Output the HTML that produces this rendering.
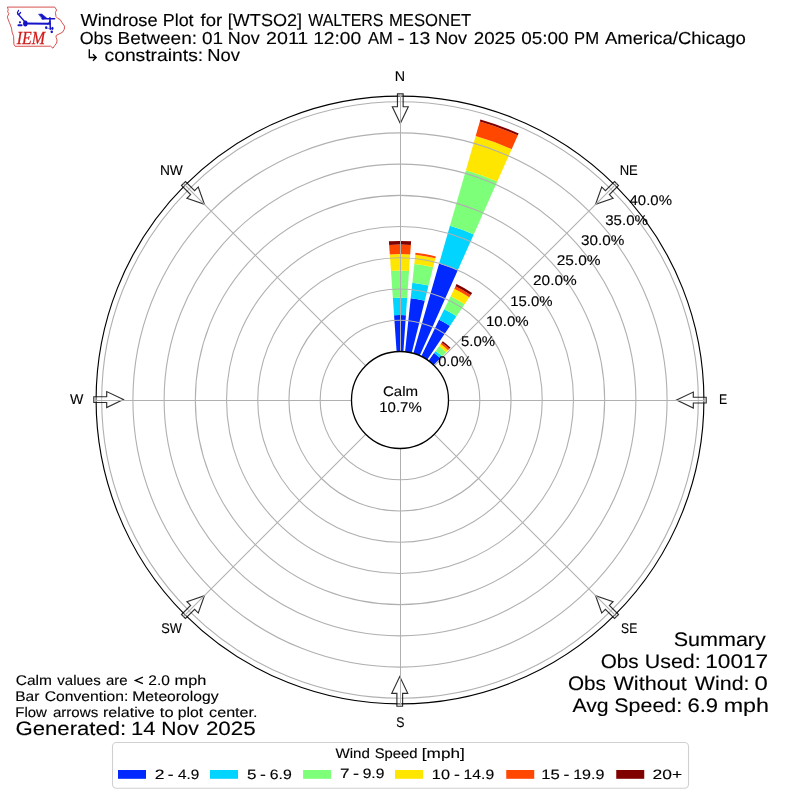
<!DOCTYPE html><html><head><meta charset="utf-8"><style>html,body{margin:0;padding:0;background:#fff;}svg{display:block;will-change:transform;text-rendering:geometricPrecision;font-family:"Liberation Sans",sans-serif;}</style></head><body>
<svg width="800" height="800" viewBox="0 0 800 800">
<rect width="800" height="800" fill="#fff"/>
<path d="M396.61,351.52 L394.07,315.21 A84.99,84.99 0 0 1 405.93,315.21 L403.39,351.52 A48.60,48.60 0 0 0 396.61,351.52 Z" fill="#0028ff"/>
<path d="M394.07,315.21 L392.86,297.96 A102.29,102.29 0 0 1 407.14,297.96 L405.93,315.21 A84.99,84.99 0 0 0 394.07,315.21 Z" fill="#00d4ff"/>
<path d="M392.86,297.96 L390.98,270.94 A129.38,129.38 0 0 1 409.02,270.94 L407.14,297.96 A102.29,102.29 0 0 0 392.86,297.96 Z" fill="#7dff7a"/>
<path d="M390.98,270.94 L389.82,254.43 A145.92,145.92 0 0 1 410.18,254.43 L409.02,270.94 A129.38,129.38 0 0 0 390.98,270.94 Z" fill="#ffe600"/>
<path d="M389.82,254.43 L389.15,244.91 A155.47,155.47 0 0 1 410.85,244.91 L410.18,254.43 A145.92,145.92 0 0 0 389.82,254.43 Z" fill="#ff4700"/>
<path d="M389.15,244.91 L388.91,241.36 A159.03,159.03 0 0 1 411.09,241.36 L410.85,244.91 A155.47,155.47 0 0 0 389.15,244.91 Z" fill="#800000"/>
<path d="M405.08,351.67 L410.69,298.27 A102.29,102.29 0 0 1 424.75,300.75 L411.76,352.84 A48.60,48.60 0 0 0 405.08,351.67 Z" fill="#0028ff"/>
<path d="M410.69,298.27 L412.34,282.63 A118.02,118.02 0 0 1 428.55,285.49 L424.75,300.75 A102.29,102.29 0 0 0 410.69,298.27 Z" fill="#00d4ff"/>
<path d="M412.34,282.63 L414.31,263.88 A136.87,136.87 0 0 1 433.11,267.20 L428.55,285.49 A118.02,118.02 0 0 0 412.34,282.63 Z" fill="#7dff7a"/>
<path d="M414.31,263.88 L415.27,254.69 A146.11,146.11 0 0 1 435.35,258.23 L433.11,267.20 A136.87,136.87 0 0 0 414.31,263.88 Z" fill="#ffe600"/>
<path d="M415.27,254.69 L415.47,252.83 A147.98,147.98 0 0 1 435.80,256.42 L435.35,258.23 A146.11,146.11 0 0 0 415.27,254.69 Z" fill="#ff4700"/>
<path d="M413.40,353.28 L439.14,263.51 A141.99,141.99 0 0 1 457.75,270.29 L419.77,355.60 A48.60,48.60 0 0 0 413.40,353.28 Z" fill="#0028ff"/>
<path d="M439.14,263.51 L449.94,225.83 A181.19,181.19 0 0 1 473.70,234.47 L457.75,270.29 A141.99,141.99 0 0 0 439.14,263.51 Z" fill="#00d4ff"/>
<path d="M449.94,225.83 L465.91,170.14 A239.12,239.12 0 0 1 497.26,181.55 L473.70,234.47 A181.19,181.19 0 0 0 449.94,225.83 Z" fill="#7dff7a"/>
<path d="M465.91,170.14 L475.67,136.12 A274.52,274.52 0 0 1 511.66,149.22 L497.26,181.55 A239.12,239.12 0 0 0 465.91,170.14 Z" fill="#ffe600"/>
<path d="M475.67,136.12 L479.85,121.54 A289.69,289.69 0 0 1 517.83,135.36 L511.66,149.22 A274.52,274.52 0 0 0 475.67,136.12 Z" fill="#ff4700"/>
<path d="M479.85,121.54 L480.40,119.62 A291.68,291.68 0 0 1 518.64,133.53 L517.83,135.36 A289.69,289.69 0 0 0 479.85,121.54 Z" fill="#800000"/>
<path d="M421.30,356.32 L439.12,319.79 A89.24,89.24 0 0 1 449.90,326.02 L427.18,359.71 A48.60,48.60 0 0 0 421.30,356.32 Z" fill="#0028ff"/>
<path d="M439.12,319.79 L444.24,309.30 A100.91,100.91 0 0 1 456.43,316.34 L449.90,326.02 A89.24,89.24 0 0 0 439.12,319.79 Z" fill="#00d4ff"/>
<path d="M444.24,309.30 L450.64,296.17 A115.52,115.52 0 0 1 464.60,304.23 L456.43,316.34 A100.91,100.91 0 0 0 444.24,309.30 Z" fill="#7dff7a"/>
<path d="M450.64,296.17 L454.31,288.65 A123.88,123.88 0 0 1 469.28,297.30 L464.60,304.23 A115.52,115.52 0 0 0 450.64,296.17 Z" fill="#ffe600"/>
<path d="M454.31,288.65 L455.51,286.18 A126.63,126.63 0 0 1 470.81,295.02 L469.28,297.30 A123.88,123.88 0 0 0 454.31,288.65 Z" fill="#ff4700"/>
<path d="M455.51,286.18 L456.55,284.05 A129.00,129.00 0 0 1 472.14,293.05 L470.81,295.02 A126.63,126.63 0 0 0 455.51,286.18 Z" fill="#800000"/>
<path d="M428.57,360.68 L434.07,353.11 A57.96,57.96 0 0 1 440.27,358.30 L433.76,365.04 A48.60,48.60 0 0 0 428.57,360.68 Z" fill="#0028ff"/>
<path d="M434.07,353.11 L435.65,350.93 A60.65,60.65 0 0 1 442.13,356.37 L440.27,358.30 A57.96,57.96 0 0 0 434.07,353.11 Z" fill="#00d4ff"/>
<path d="M435.65,350.93 L439.10,346.19 A66.52,66.52 0 0 1 446.21,352.15 L442.13,356.37 A60.65,60.65 0 0 0 435.65,350.93 Z" fill="#7dff7a"/>
<path d="M439.10,346.19 L440.67,344.02 A69.20,69.20 0 0 1 448.07,350.22 L446.21,352.15 A66.52,66.52 0 0 0 439.10,346.19 Z" fill="#ffe600"/>
<path d="M440.67,344.02 L441.78,342.50 A71.07,71.07 0 0 1 449.37,348.87 L448.07,350.22 A69.20,69.20 0 0 0 440.67,344.02 Z" fill="#ff4700"/>
<path d="M441.78,342.50 L442.77,341.14 A72.76,72.76 0 0 1 450.54,347.66 L449.37,348.87 A71.07,71.07 0 0 0 441.78,342.50 Z" fill="#800000"/>
<circle cx="400.0" cy="400.0" r="79.81" fill="none" stroke="#b0b0b0" stroke-width="1.1"/>
<circle cx="400.0" cy="400.0" r="111.03" fill="none" stroke="#b0b0b0" stroke-width="1.1"/>
<circle cx="400.0" cy="400.0" r="142.24" fill="none" stroke="#b0b0b0" stroke-width="1.1"/>
<circle cx="400.0" cy="400.0" r="173.45" fill="none" stroke="#b0b0b0" stroke-width="1.1"/>
<circle cx="400.0" cy="400.0" r="204.66" fill="none" stroke="#b0b0b0" stroke-width="1.1"/>
<circle cx="400.0" cy="400.0" r="235.87" fill="none" stroke="#b0b0b0" stroke-width="1.1"/>
<circle cx="400.0" cy="400.0" r="267.09" fill="none" stroke="#b0b0b0" stroke-width="1.1"/>
<circle cx="400.0" cy="400.0" r="298.30" fill="none" stroke="#b0b0b0" stroke-width="1.1"/>
<circle cx="400.0" cy="400.0" r="303.9" fill="none" stroke="#000" stroke-width="1.15"/>
<polygon points="397.45,93.80 403.15,93.80 403.15,106.70 408.30,106.70 400.30,123.40 392.30,106.70 397.45,106.70" fill="#fff" fill-opacity="0.3" stroke="#000" stroke-opacity="0.82" stroke-width="1.15" stroke-linejoin="miter"/>
<polygon points="614.50,181.47 618.53,185.50 609.41,194.62 613.05,198.26 595.59,204.41 601.74,186.95 605.38,190.59" fill="#fff" fill-opacity="0.3" stroke="#000" stroke-opacity="0.82" stroke-width="1.15" stroke-linejoin="miter"/>
<polygon points="706.20,397.25 706.20,402.95 693.30,402.95 693.30,408.10 676.60,400.10 693.30,392.10 693.30,397.25" fill="#fff" fill-opacity="0.3" stroke="#000" stroke-opacity="0.82" stroke-width="1.15" stroke-linejoin="miter"/>
<polygon points="618.53,614.50 614.50,618.53 605.38,609.41 601.74,613.05 595.59,595.59 613.05,601.74 609.41,605.38" fill="#fff" fill-opacity="0.3" stroke="#000" stroke-opacity="0.82" stroke-width="1.15" stroke-linejoin="miter"/>
<polygon points="402.60,706.20 396.90,706.20 396.90,693.30 391.75,693.30 399.75,676.60 407.75,693.30 402.60,693.30" fill="#fff" fill-opacity="0.3" stroke="#000" stroke-opacity="0.82" stroke-width="1.15" stroke-linejoin="miter"/>
<polygon points="185.50,618.53 181.47,614.50 190.59,605.38 186.95,601.74 204.41,595.59 198.26,613.05 194.62,609.41" fill="#fff" fill-opacity="0.3" stroke="#000" stroke-opacity="0.82" stroke-width="1.15" stroke-linejoin="miter"/>
<polygon points="93.80,402.45 93.80,396.75 106.70,396.75 106.70,391.60 123.40,399.60 106.70,407.60 106.70,402.45" fill="#fff" fill-opacity="0.3" stroke="#000" stroke-opacity="0.82" stroke-width="1.15" stroke-linejoin="miter"/>
<polygon points="181.47,185.50 185.50,181.47 194.62,190.59 198.26,186.95 204.41,204.41 186.95,198.26 190.59,194.62" fill="#fff" fill-opacity="0.3" stroke="#000" stroke-opacity="0.82" stroke-width="1.15" stroke-linejoin="miter"/>
<line x1="400.5" y1="351.40" x2="400.5" y2="94.00" stroke="#b0b0b0" stroke-width="1"/>
<line x1="434.37" y1="365.63" x2="616.37" y2="183.63" stroke="#b0b0b0" stroke-width="1.1"/>
<line x1="448.60" y1="400.5" x2="706.00" y2="400.5" stroke="#b0b0b0" stroke-width="1"/>
<line x1="434.37" y1="434.37" x2="616.37" y2="616.37" stroke="#b0b0b0" stroke-width="1.1"/>
<line x1="400.5" y1="448.60" x2="400.5" y2="706.00" stroke="#b0b0b0" stroke-width="1"/>
<line x1="365.63" y1="434.37" x2="183.63" y2="616.37" stroke="#b0b0b0" stroke-width="1.1"/>
<line x1="351.40" y1="400.5" x2="94.00" y2="400.5" stroke="#b0b0b0" stroke-width="1"/>
<line x1="365.63" y1="365.63" x2="183.63" y2="183.63" stroke="#b0b0b0" stroke-width="1.1"/>
<circle cx="400.0" cy="400.0" r="48.5" fill="#fff" stroke="#000" stroke-width="1.3"/>
<text x="382.95" y="395.54" font-size="13.86" textLength="35.16" lengthAdjust="spacingAndGlyphs" fill="#000" stroke="#000" stroke-width="0.12">Calm</text>
<text x="379.30" y="411.74" font-size="14.08" textLength="42.44" lengthAdjust="spacingAndGlyphs" fill="#000" stroke="#000" stroke-width="0.12">10.7%</text>
<text x="438.20" y="365.54" font-size="14.08" textLength="33.54" lengthAdjust="spacingAndGlyphs" fill="#000" stroke="#000" stroke-width="0.12">0.0%</text>
<text x="461.00" y="345.74" font-size="14.08" textLength="34.07" lengthAdjust="spacingAndGlyphs" fill="#000" stroke="#000" stroke-width="0.12">5.0%</text>
<text x="486.00" y="325.84" font-size="14.08" textLength="42.65" lengthAdjust="spacingAndGlyphs" fill="#000" stroke="#000" stroke-width="0.12">10.0%</text>
<text x="510.20" y="305.74" font-size="14.08" textLength="42.34" lengthAdjust="spacingAndGlyphs" fill="#000" stroke="#000" stroke-width="0.12">15.0%</text>
<text x="533.05" y="284.94" font-size="14.08" textLength="43.72" lengthAdjust="spacingAndGlyphs" fill="#000" stroke="#000" stroke-width="0.12">20.0%</text>
<text x="556.65" y="264.84" font-size="14.08" textLength="43.93" lengthAdjust="spacingAndGlyphs" fill="#000" stroke="#000" stroke-width="0.12">25.0%</text>
<text x="581.00" y="244.94" font-size="14.08" textLength="43.35" lengthAdjust="spacingAndGlyphs" fill="#000" stroke="#000" stroke-width="0.12">30.0%</text>
<text x="605.25" y="225.14" font-size="14.08" textLength="42.68" lengthAdjust="spacingAndGlyphs" fill="#000" stroke="#000" stroke-width="0.12">35.0%</text>
<text x="629.55" y="205.14" font-size="14.08" textLength="42.37" lengthAdjust="spacingAndGlyphs" fill="#000" stroke="#000" stroke-width="0.12">40.0%</text>
<text x="394.82" y="80.94" font-size="14.08" textLength="10.32" lengthAdjust="spacingAndGlyphs" fill="#000" stroke="#000" stroke-width="0.12">N</text>
<text x="619.69" y="174.84" font-size="14.08" textLength="18.11" lengthAdjust="spacingAndGlyphs" fill="#000" stroke="#000" stroke-width="0.12">NE</text>
<text x="718.99" y="403.74" font-size="14.08" textLength="8.16" lengthAdjust="spacingAndGlyphs" fill="#000" stroke="#000" stroke-width="0.12">E</text>
<text x="621.11" y="632.74" font-size="14.08" textLength="16.15" lengthAdjust="spacingAndGlyphs" fill="#000" stroke="#000" stroke-width="0.12">SE</text>
<text x="396.30" y="726.54" font-size="14.08" textLength="8.22" lengthAdjust="spacingAndGlyphs" fill="#000" stroke="#000" stroke-width="0.12">S</text>
<text x="161.25" y="632.74" font-size="14.08" textLength="20.69" lengthAdjust="spacingAndGlyphs" fill="#000" stroke="#000" stroke-width="0.12">SW</text>
<text x="70.00" y="403.84" font-size="14.08" textLength="13.36" lengthAdjust="spacingAndGlyphs" fill="#000" stroke="#000" stroke-width="0.12">W</text>
<text x="159.89" y="174.94" font-size="14.08" textLength="22.95" lengthAdjust="spacingAndGlyphs" fill="#000" stroke="#000" stroke-width="0.12">NW</text>
<text x="80.50" y="25.84" font-size="17.35" textLength="77.18" lengthAdjust="spacingAndGlyphs" fill="#000" stroke="#000" stroke-width="0.12">Windrose</text>
<text x="162.71" y="25.84" font-size="17.35" textLength="30.90" lengthAdjust="spacingAndGlyphs" fill="#000" stroke="#000" stroke-width="0.12">Plot</text>
<text x="200.54" y="25.84" font-size="17.35" textLength="21.62" lengthAdjust="spacingAndGlyphs" fill="#000" stroke="#000" stroke-width="0.12">for</text>
<text x="227.81" y="25.84" font-size="17.35" textLength="74.26" lengthAdjust="spacingAndGlyphs" fill="#000" stroke="#000" stroke-width="0.12">[WTSO2]</text>
<text x="308.23" y="25.84" font-size="17.35" textLength="75.29" lengthAdjust="spacingAndGlyphs" fill="#000" stroke="#000" stroke-width="0.12">WALTERS</text>
<text x="389.01" y="25.84" font-size="17.35" textLength="82.27" lengthAdjust="spacingAndGlyphs" fill="#000" stroke="#000" stroke-width="0.12">MESONET</text>
<text x="79.75" y="43.74" font-size="17.35" textLength="32.71" lengthAdjust="spacingAndGlyphs" fill="#000" stroke="#000" stroke-width="0.12">Obs</text>
<text x="117.62" y="43.74" font-size="17.35" textLength="79.47" lengthAdjust="spacingAndGlyphs" fill="#000" stroke="#000" stroke-width="0.12">Between:</text>
<text x="201.91" y="43.74" font-size="17.35" textLength="21.12" lengthAdjust="spacingAndGlyphs" fill="#000" stroke="#000" stroke-width="0.12">01</text>
<text x="227.77" y="43.74" font-size="17.35" textLength="31.89" lengthAdjust="spacingAndGlyphs" fill="#000" stroke="#000" stroke-width="0.12">Nov</text>
<text x="266.03" y="43.74" font-size="17.35" textLength="42.29" lengthAdjust="spacingAndGlyphs" fill="#000" stroke="#000" stroke-width="0.12">2011</text>
<text x="313.17" y="43.74" font-size="17.35" textLength="48.09" lengthAdjust="spacingAndGlyphs" fill="#000" stroke="#000" stroke-width="0.12">12:00</text>
<text x="367.90" y="43.74" font-size="17.35" textLength="24.94" lengthAdjust="spacingAndGlyphs" fill="#000" stroke="#000" stroke-width="0.12">AM</text>
<text x="397.16" y="43.74" font-size="17.35" textLength="7.48" lengthAdjust="spacingAndGlyphs" fill="#000" stroke="#000" stroke-width="0.12">-</text>
<text x="408.57" y="43.74" font-size="17.35" textLength="21.68" lengthAdjust="spacingAndGlyphs" fill="#000" stroke="#000" stroke-width="0.12">13</text>
<text x="435.18" y="43.74" font-size="17.35" textLength="31.89" lengthAdjust="spacingAndGlyphs" fill="#000" stroke="#000" stroke-width="0.12">Nov</text>
<text x="473.70" y="43.74" font-size="17.35" textLength="41.77" lengthAdjust="spacingAndGlyphs" fill="#000" stroke="#000" stroke-width="0.12">2025</text>
<text x="521.33" y="43.74" font-size="17.35" textLength="47.31" lengthAdjust="spacingAndGlyphs" fill="#000" stroke="#000" stroke-width="0.12">05:00</text>
<text x="574.04" y="43.74" font-size="17.35" textLength="25.00" lengthAdjust="spacingAndGlyphs" fill="#000" stroke="#000" stroke-width="0.12">PM</text>
<text x="604.99" y="43.74" font-size="17.35" textLength="140.81" lengthAdjust="spacingAndGlyphs" fill="#000" stroke="#000" stroke-width="0.12">America/Chicago</text>
<path d="M89.3,49.2 L89.3,57.5 L96,57.5 M93,54.3 L96.2,57.5 L93,60.7" fill="none" stroke="#000" stroke-width="1.35"/>
<text x="104.50" y="60.69" font-size="17.35" textLength="98.67" lengthAdjust="spacingAndGlyphs" fill="#000" stroke="#000" stroke-width="0.12">constraints:</text>
<text x="207.29" y="60.69" font-size="17.35" textLength="32.65" lengthAdjust="spacingAndGlyphs" fill="#000" stroke="#000" stroke-width="0.12">Nov</text>
<text x="15.75" y="684.64" font-size="13.96" textLength="36.13" lengthAdjust="spacingAndGlyphs" fill="#000" stroke="#000" stroke-width="0.12">Calm</text>
<text x="57.26" y="684.64" font-size="13.96" textLength="43.47" lengthAdjust="spacingAndGlyphs" fill="#000" stroke="#000" stroke-width="0.12">values</text>
<text x="105.94" y="684.64" font-size="13.96" textLength="21.56" lengthAdjust="spacingAndGlyphs" fill="#000" stroke="#000" stroke-width="0.12">are</text>
<path d="M142.9,677.2 L135.3,680.4 L142.9,683.6" fill="none" stroke="#000" stroke-width="1.25" stroke-linejoin="miter"/>
<text x="148.33" y="684.64" font-size="13.96" textLength="21.59" lengthAdjust="spacingAndGlyphs" fill="#000" stroke="#000" stroke-width="0.12">2.0</text>
<text x="174.55" y="684.64" font-size="13.96" textLength="31.77" lengthAdjust="spacingAndGlyphs" fill="#000" stroke="#000" stroke-width="0.12">mph</text>
<text x="15.25" y="700.64" font-size="13.96" textLength="24.14" lengthAdjust="spacingAndGlyphs" fill="#000" stroke="#000" stroke-width="0.12">Bar</text>
<text x="44.81" y="700.64" font-size="13.96" textLength="83.52" lengthAdjust="spacingAndGlyphs" fill="#000" stroke="#000" stroke-width="0.12">Convention:</text>
<text x="132.25" y="700.64" font-size="13.96" textLength="86.30" lengthAdjust="spacingAndGlyphs" fill="#000" stroke="#000" stroke-width="0.12">Meteorology</text>
<text x="15.26" y="716.64" font-size="13.96" textLength="31.57" lengthAdjust="spacingAndGlyphs" fill="#000" stroke="#000" stroke-width="0.12">Flow</text>
<text x="52.92" y="716.64" font-size="13.96" textLength="45.33" lengthAdjust="spacingAndGlyphs" fill="#000" stroke="#000" stroke-width="0.12">arrows</text>
<text x="103.03" y="716.64" font-size="13.96" textLength="51.77" lengthAdjust="spacingAndGlyphs" fill="#000" stroke="#000" stroke-width="0.12">relative</text>
<text x="159.82" y="716.64" font-size="13.96" textLength="13.71" lengthAdjust="spacingAndGlyphs" fill="#000" stroke="#000" stroke-width="0.12">to</text>
<text x="177.78" y="716.64" font-size="13.96" textLength="25.46" lengthAdjust="spacingAndGlyphs" fill="#000" stroke="#000" stroke-width="0.12">plot</text>
<text x="209.14" y="716.64" font-size="13.96" textLength="48.35" lengthAdjust="spacingAndGlyphs" fill="#000" stroke="#000" stroke-width="0.12">center.</text>
<text x="15.50" y="735.44" font-size="19.22" textLength="110.78" lengthAdjust="spacingAndGlyphs" fill="#000" stroke="#000" stroke-width="0.12">Generated:</text>
<text x="130.95" y="735.44" font-size="19.22" textLength="24.55" lengthAdjust="spacingAndGlyphs" fill="#000" stroke="#000" stroke-width="0.12">14</text>
<text x="161.38" y="735.44" font-size="19.22" textLength="37.50" lengthAdjust="spacingAndGlyphs" fill="#000" stroke="#000" stroke-width="0.12">Nov</text>
<text x="205.92" y="735.44" font-size="19.22" textLength="49.84" lengthAdjust="spacingAndGlyphs" fill="#000" stroke="#000" stroke-width="0.12">2025</text>
<text x="673.75" y="645.54" font-size="19.55" textLength="92.02" lengthAdjust="spacingAndGlyphs" fill="#000" stroke="#000" stroke-width="0.12">Summary</text>
<text x="600.75" y="667.64" font-size="19.55" textLength="37.96" lengthAdjust="spacingAndGlyphs" fill="#000" stroke="#000" stroke-width="0.12">Obs</text>
<text x="644.72" y="667.64" font-size="19.55" textLength="55.92" lengthAdjust="spacingAndGlyphs" fill="#000" stroke="#000" stroke-width="0.12">Used:</text>
<text x="705.18" y="667.64" font-size="19.55" textLength="63.06" lengthAdjust="spacingAndGlyphs" fill="#000" stroke="#000" stroke-width="0.12">10017</text>
<text x="567.90" y="689.59" font-size="19.55" textLength="37.95" lengthAdjust="spacingAndGlyphs" fill="#000" stroke="#000" stroke-width="0.12">Obs</text>
<text x="613.44" y="689.59" font-size="19.55" textLength="73.29" lengthAdjust="spacingAndGlyphs" fill="#000" stroke="#000" stroke-width="0.12">Without</text>
<text x="694.83" y="689.59" font-size="19.55" textLength="54.70" lengthAdjust="spacingAndGlyphs" fill="#000" stroke="#000" stroke-width="0.12">Wind:</text>
<text x="754.60" y="689.59" font-size="19.55" textLength="13.30" lengthAdjust="spacingAndGlyphs" fill="#000" stroke="#000" stroke-width="0.12">0</text>
<text x="572.45" y="711.54" font-size="19.55" textLength="36.18" lengthAdjust="spacingAndGlyphs" fill="#000" stroke="#000" stroke-width="0.12">Avg</text>
<text x="614.31" y="711.54" font-size="19.55" textLength="67.91" lengthAdjust="spacingAndGlyphs" fill="#000" stroke="#000" stroke-width="0.12">Speed:</text>
<text x="687.42" y="711.54" font-size="19.55" textLength="30.62" lengthAdjust="spacingAndGlyphs" fill="#000" stroke="#000" stroke-width="0.12">6.9</text>
<text x="723.73" y="711.54" font-size="19.55" textLength="45.27" lengthAdjust="spacingAndGlyphs" fill="#000" stroke="#000" stroke-width="0.12">mph</text>
<rect x="112.5" y="742.5" width="576.0" height="45.75" rx="4" ry="4" fill="#fff" fill-opacity="0.8" stroke="#d0d0d0" stroke-width="1.1"/>
<text x="335.50" y="757.74" font-size="13.86" textLength="34.43" lengthAdjust="spacingAndGlyphs" fill="#000" stroke="#000" stroke-width="0.12">Wind</text>
<text x="374.76" y="757.74" font-size="13.86" textLength="42.81" lengthAdjust="spacingAndGlyphs" fill="#000" stroke="#000" stroke-width="0.12">Speed</text>
<text x="421.85" y="757.74" font-size="13.86" textLength="42.93" lengthAdjust="spacingAndGlyphs" fill="#000" stroke="#000" stroke-width="0.12">[mph]</text>
<rect x="118.0" y="770.0" width="28.0" height="8.8" fill="#0028ff"/>
<rect x="210.0" y="770.0" width="28.0" height="8.8" fill="#00d4ff"/>
<rect x="303.1" y="770.0" width="28.0" height="8.8" fill="#7dff7a"/>
<rect x="395.0" y="770.0" width="28.0" height="8.8" fill="#ffe600"/>
<rect x="506.25" y="770.0" width="28.0" height="8.8" fill="#ff4700"/>
<rect x="616.25" y="770.0" width="28.0" height="8.8" fill="#800000"/>
<text x="154.86" y="778.54" font-size="13.64" textLength="9.71" lengthAdjust="spacingAndGlyphs" fill="#000" stroke="#000" stroke-width="0.12">2</text>
<text x="167.83" y="778.54" font-size="13.64" textLength="5.81" lengthAdjust="spacingAndGlyphs" fill="#000" stroke="#000" stroke-width="0.12">-</text>
<text x="178.06" y="778.54" font-size="13.64" textLength="21.31" lengthAdjust="spacingAndGlyphs" fill="#000" stroke="#000" stroke-width="0.12">4.9</text>
<text x="247.00" y="778.54" font-size="13.64" textLength="9.47" lengthAdjust="spacingAndGlyphs" fill="#000" stroke="#000" stroke-width="0.12">5</text>
<text x="260.00" y="778.54" font-size="13.64" textLength="5.86" lengthAdjust="spacingAndGlyphs" fill="#000" stroke="#000" stroke-width="0.12">-</text>
<text x="269.75" y="778.54" font-size="13.64" textLength="22.03" lengthAdjust="spacingAndGlyphs" fill="#000" stroke="#000" stroke-width="0.12">6.9</text>
<text x="340.06" y="778.44" font-size="13.64" textLength="9.53" lengthAdjust="spacingAndGlyphs" fill="#000" stroke="#000" stroke-width="0.12">7</text>
<text x="352.93" y="778.44" font-size="13.64" textLength="6.04" lengthAdjust="spacingAndGlyphs" fill="#000" stroke="#000" stroke-width="0.12">-</text>
<text x="362.66" y="778.44" font-size="13.64" textLength="21.69" lengthAdjust="spacingAndGlyphs" fill="#000" stroke="#000" stroke-width="0.12">9.9</text>
<text x="431.86" y="778.54" font-size="13.64" textLength="18.12" lengthAdjust="spacingAndGlyphs" fill="#000" stroke="#000" stroke-width="0.12">10</text>
<text x="453.92" y="778.54" font-size="13.64" textLength="5.89" lengthAdjust="spacingAndGlyphs" fill="#000" stroke="#000" stroke-width="0.12">-</text>
<text x="463.59" y="778.54" font-size="13.64" textLength="30.57" lengthAdjust="spacingAndGlyphs" fill="#000" stroke="#000" stroke-width="0.12">14.9</text>
<text x="541.24" y="778.54" font-size="13.64" textLength="18.60" lengthAdjust="spacingAndGlyphs" fill="#000" stroke="#000" stroke-width="0.12">15</text>
<text x="563.61" y="778.54" font-size="13.64" textLength="5.90" lengthAdjust="spacingAndGlyphs" fill="#000" stroke="#000" stroke-width="0.12">-</text>
<text x="573.16" y="778.54" font-size="13.64" textLength="31.29" lengthAdjust="spacingAndGlyphs" fill="#000" stroke="#000" stroke-width="0.12">19.9</text>
<text x="652.50" y="778.54" font-size="13.64" textLength="29.58" lengthAdjust="spacingAndGlyphs" fill="#000" stroke="#000" stroke-width="0.12">20+</text>
<g>
<path d="M7.3,7.1 L54.8,7.1 L56.6,10 L55.4,12.4 L56,16.6 L57.8,18.4 L60.2,19.6 L62,22.6 L64.6,26.2 L64.3,29.2 L62.6,32.2 L59,34 L56.1,35.5 L56.1,37.6 L57.1,40 L56.6,43 L54.8,45.4 L53,48.2 L50.6,46.2 L15.1,46.3 L13.9,44.2 L13.6,36.4 L12.1,32.2 L11.5,28 L9.4,22.6 L8.2,19.6 L7.4,16.9 L8.8,13.6 L7.7,11.8 L8.2,9.4 Z" fill="none" stroke="#d64848" stroke-width="0.95" stroke-linejoin="round"/>
<text x="16.7" y="43.9" font-family="Liberation Serif" font-style="italic" font-size="18.4" textLength="28.4" lengthAdjust="spacingAndGlyphs" fill="#d01a1a" stroke="#d01a1a" stroke-width="0.25">IEM</text>
<g fill="#1414c8" stroke="#1414c8" stroke-linecap="round">
<ellipse cx="25.35" cy="23.4" rx="2.3" ry="3.0" stroke="none"/>
<line x1="25.5" y1="23.6" x2="50" y2="23.8" stroke-width="2.0"/>
<path d="M47.5,23.8 Q49.8,23.2 49.9,21" stroke-width="1.2" fill="none"/>
<line x1="24.6" y1="21.5" x2="18" y2="14" stroke-width="1.35"/>
<path d="M18,14.2 L17.4,12.8 L18.5,10.4 M19,14.4 L20.6,12.5" stroke-width="1.2" fill="none"/>
<circle cx="19.95" cy="22.3" r="1.1" stroke="none"/>
<line x1="18.4" y1="25.2" x2="21.6" y2="25.2" stroke-width="1.9"/>
<line x1="49.95" y1="17.8" x2="50.3" y2="29.2" stroke-width="1.5"/>
<line x1="42.2" y1="18.7" x2="54.6" y2="18.8" stroke-width="1.6"/>
<path d="M38.9,14.2 L41.9,14.0 L46.6,18.0 L42.9,19.2 Z" stroke-width="0.6"/>
<ellipse cx="46.2" cy="27.7" rx="1.15" ry="1.4" stroke="none"/>
<ellipse cx="52.4" cy="28.3" rx="1.1" ry="1.6" stroke="none"/>
<ellipse cx="51.75" cy="31.8" rx="1.25" ry="1.35" stroke="none"/>
<line x1="46.5" y1="28" x2="51.5" y2="29" stroke-width="0.8" stroke-opacity="0.6"/>
</g></g>
</svg></body></html>
